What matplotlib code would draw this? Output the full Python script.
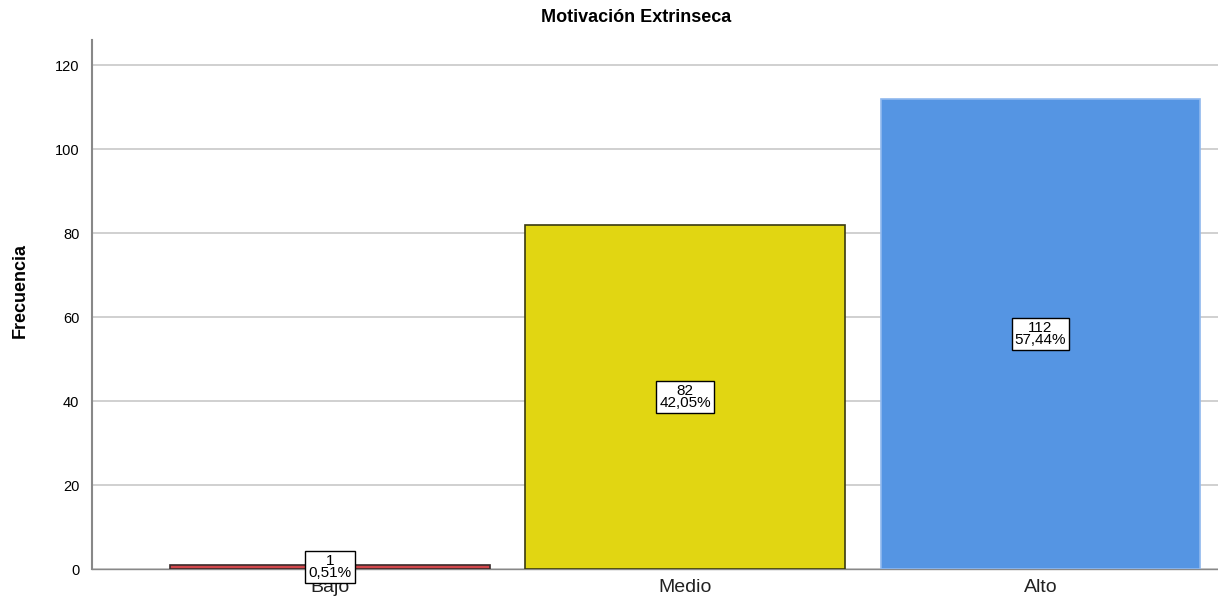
import matplotlib
matplotlib.use("Agg")
import matplotlib.pyplot as plt

categories = ["Bajo", "Medio", "Alto"]
counts = [1, 82, 112]
percents = ["0,51%", "42,05%", "57,44%"]
colors = ["#d2474c", "#e1d612", "#5595e3"]
edges = ["#3a2a2a", "#3a3a10", "#8fb8ee"]
yticks = [0, 20, 40, 60, 80, 100, 120]

plt.rcParams["font.family"] = ["Liberation Sans", "DejaVu Sans"]

fig = plt.figure(figsize=(12.18, 5.99), dpi=100)
ax = fig.add_axes([0.0755, 0.050, 0.9245, 0.883])

x = list(range(len(categories)))
ax.bar(x, counts, width=0.9, color=colors, edgecolor=edges, linewidth=1.2, zorder=3)

for xi, c, p in zip(x, counts, percents):
    ax.text(xi, c / 2, f"{c}\n{p}", ha="center", va="center", fontsize=11,
            linespacing=0.85, zorder=5,
            bbox=dict(boxstyle="square,pad=0.2", fc="white", ec="black", lw=1))

ax.set_xlim(-0.67, 2.5)
ax.set_ylim(0, 126)
ax.set_yticks(yticks)
ax.set_xticks(x)
ax.set_xticklabels(categories, fontsize=14, color="#222222")
ax.tick_params(axis="x", length=0, pad=7)
ax.tick_params(axis="y", length=0, labelsize=10.5, pad=9)
ax.yaxis.grid(True, color="#c8c8c8", lw=1.2, zorder=0)

for s in ["top", "right"]:
    ax.spines[s].set_visible(False)
ax.spines["left"].set_color("#888888")
ax.spines["left"].set_linewidth(1.5)
ax.spines["bottom"].set_color("#888888")
ax.spines["bottom"].set_linewidth(1)

ax.set_ylabel("Frecuencia", fontsize=13, fontweight="bold")
ax.yaxis.set_label_coords(-0.056, 0.527)
fig.suptitle("Motivación Extrinseca", fontsize=13, fontweight="bold", x=0.522, y=0.985)

fig.savefig("out.png", dpi=100)
